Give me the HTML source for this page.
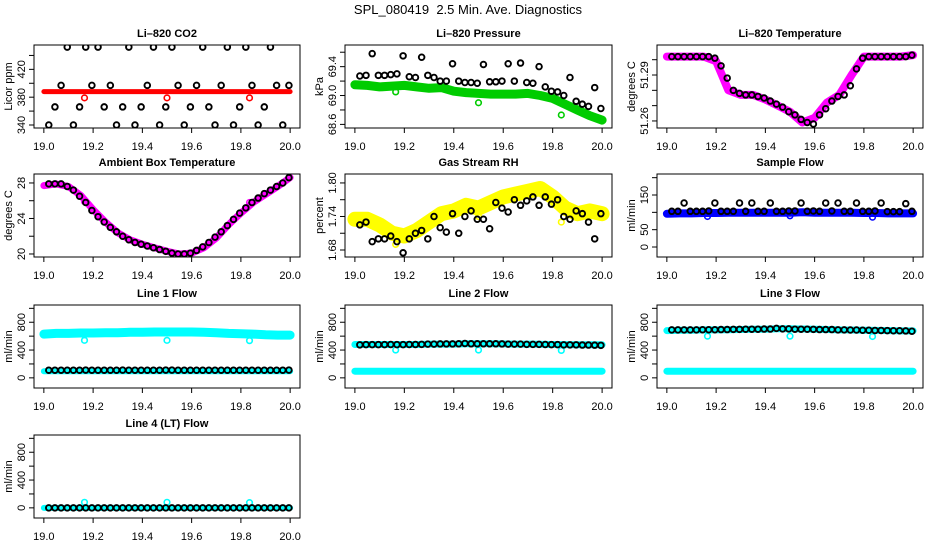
<!DOCTYPE html>
<html><head><meta charset="utf-8">
<style>
html,body{margin:0;padding:0;background:#fff;}
svg{display:block;font-family:"Liberation Sans",sans-serif;}
</style></head>
<body>
<svg id="chart" width="936" height="540" viewBox="0 0 936 540">
<text x="468" y="14" text-anchor="middle" font-size="13">SPL_080419&#160; 2.5 Min. Ave. Diagnostics</text>
</svg>
<script>
// ---- shared data ----
const bandX = [19.00,19.05,19.10,19.15,19.20,19.25,19.30,19.35,19.40,19.45,19.50,19.55,19.60,19.65,19.70,19.75,19.80,19.85,19.90,19.95,20.00];
const blackX = [19.020,19.045,19.070,19.095,19.120,19.145,19.170,19.195,19.220,19.245,19.270,19.295,19.320,19.345,19.370,19.395,19.420,19.445,19.470,19.495,19.520,19.545,19.570,19.595,19.620,19.645,19.670,19.695,19.720,19.745,19.770,19.795,19.820,19.845,19.870,19.895,19.920,19.945,19.970,19.995];
const outX = [19.165,19.50,19.835];
const xTicks = [19.0,19.2,19.4,19.6,19.8,20.0];
const xTickLabels = ["19.0","19.2","19.4","19.6","19.8","20.0"];

// CO2
const co2Band = [388,388,388,388,388,388,388,388,388,388,388,388,388,388,388,388,388,388,388,388,388];
const co2Black = [340,366,397,452,340,366,452,397,452,366,397,340,366,452,340,366,397,452,340,366,452,397,340,366,397,452,366,340,397,452,340,366,452,397,340,366,452,397,340,397];
const co2Out = [379,379,379];
const co2Ticks = [340,360,380,400,420,440];
const co2Labels = ["340","","380","","420",""];
// Pressure
const presBand = [69.15,69.14,69.12,69.13,69.14,69.12,69.10,69.11,69.06,69.04,69.03,69.02,69.02,69.02,69.03,69.00,68.96,68.88,68.80,68.72,68.66];
const presBlack = [69.27,69.28,69.58,69.28,69.28,69.29,69.30,69.55,69.26,69.25,69.53,69.28,69.25,69.20,69.20,69.44,69.20,69.18,69.18,69.17,69.43,69.19,69.19,69.20,69.44,69.20,69.45,69.18,69.17,69.40,69.12,69.06,69.05,69.00,69.25,68.92,68.88,68.85,69.11,68.82];
const presOut = [69.05,68.90,68.73];
const presTicks = [68.6,68.8,69.0,69.2,69.4,69.6];
const presLabels = ["68.6","","69.0","","69.4",""];
// Li-820 temperature
const tempBand = [51.302,51.302,51.302,51.302,51.299,51.280,51.277,51.277,51.274,51.270,51.266,51.259,51.262,51.272,51.277,51.290,51.302,51.302,51.302,51.302,51.303];
const tempBlack = [51.302,51.302,51.302,51.302,51.302,51.302,51.302,51.301,51.296,51.288,51.280,51.278,51.277,51.277,51.276,51.275,51.273,51.271,51.269,51.266,51.264,51.261,51.259,51.258,51.264,51.268,51.273,51.276,51.277,51.283,51.294,51.301,51.302,51.302,51.302,51.302,51.302,51.302,51.302,51.303];
const tempOut = [51.302,51.266,51.302];
const tempTicks = [51.26,51.27,51.28,51.29,51.30];
const tempLabels = ["51.26","","","51.29",""];
// Ambient box temperature
const ambBand = [27.7,27.9,27.6,26.6,25.0,23.6,22.4,21.6,21.1,20.7,20.3,20.0,20.1,20.7,21.8,23.3,24.6,25.8,26.7,27.6,28.6];
const ambBlack = [27.9,27.9,27.9,27.6,27.2,26.5,25.8,24.9,24.2,23.6,23.0,22.5,22.0,21.6,21.3,21.1,20.9,20.7,20.5,20.3,20.1,20.0,20.0,20.1,20.4,20.8,21.3,21.9,22.5,23.2,23.9,24.6,25.2,25.8,26.3,26.8,27.2,27.6,28.0,28.6];
const ambOut = [25.9,20.3,25.8];
const ambTicks = [20,22,24,26,28];
const ambLabels = ["20","","24","","28"];
// RH
const rhBand = [1.735,1.735,1.725,1.710,1.705,1.715,1.730,1.745,1.750,1.760,1.755,1.765,1.775,1.780,1.785,1.790,1.775,1.755,1.745,1.750,1.745];
const rhBlack = [1.725,1.730,1.695,1.700,1.700,1.705,1.695,1.675,1.700,1.710,1.715,1.700,1.740,1.720,1.712,1.745,1.710,1.740,1.750,1.735,1.735,1.718,1.765,1.755,1.748,1.770,1.760,1.768,1.775,1.760,1.775,1.762,1.770,1.740,1.735,1.750,1.745,1.730,1.700,1.745];
const rhOut = [1.690,1.740,1.730];
const rhTicks = [1.68,1.71,1.74,1.77,1.80];
const rhLabels = ["1.68","","1.74","","1.80"];
// Sample flow
const sfBand = [96,97,97,98,98,99,99,99,99,99,99,100,99,99,99,99,98,98,97,97,97];
const sfBlack = [103,103,127,103,103,103,104,127,103,103,103,127,103,127,103,103,127,103,103,104,104,127,103,104,103,127,104,127,103,103,127,103,103,104,127,102,102,102,125,103];
const sfOut = [88,90,86];
const sfTicks = [0,50,100,150,200];
const sfLabels = ["0","50","","150",""];
// Flow axes
const flowTicks = [0,200,400,600,800,1000];
const flowLabels = ["0","","400","","800",""];
// Line 1
const l1Upper = [630,640,640,645,645,650,650,655,655,660,660,660,660,655,650,640,635,630,620,615,615];
const l1Lower = [95,95,95,95,95,95,95,95,95,95,95,95,95,95,95,95,95,95,95,95,95];
const l1Black = [110,110,110,110,110,110,112,110,110,110,110,110,112,110,110,110,110,110,110,112,112,110,110,110,110,110,110,110,110,110,110,110,110,110,110,110,110,110,110,112];
const l1Out = [540,540,535];
// Line 2
const l2Upper = [480,480,480,480,480,480,485,485,485,490,490,490,488,485,485,482,480,478,475,475,475];
const l2Lower = [95,95,95,95,95,95,95,95,95,95,95,95,95,95,95,95,95,95,95,95,95];
const l2Black = [475,478,478,478,478,480,478,478,480,480,482,485,485,488,488,488,490,495,490,490,490,490,490,488,485,485,485,482,482,482,480,478,478,475,475,475,472,472,470,468];
const l2Out = [400,400,395];
// Line 3
const l3Upper = [680,685,685,690,690,692,695,698,700,705,705,703,700,695,690,688,685,682,680,675,675];
const l3Lower = [95,95,95,95,95,95,95,95,95,95,95,95,95,95,95,95,95,95,95,95,95];
const l3Black = [690,690,690,690,690,692,692,692,695,695,698,698,700,700,700,702,702,712,705,705,700,700,700,698,695,695,695,690,690,688,688,685,685,682,682,680,678,678,675,670];
const l3Out = [600,600,595];
// Line 4
const l4Band = [0,0,0,0,0,0,0,0,0,0,0,0,0,0,0,0,0,0,0,0,0];
const l4Black = [0,0,0,0,0,0,0,0,0,0,0,0,0,0,0,0,0,0,0,0,0,0,0,0,0,0,0,0,0,0,0,0,0,0,0,0,0,0,0,0];
const l4Out = [80,80,75];

// ---- drawing ----
const NS = "http://www.w3.org/2000/svg";
const svg = document.getElementById("chart");
const colLeft = [34,345,657], colRight = [300,612,923];
const rowTop = [45,174,305,435], BOXH = 83;
const XMIN = 18.96, XMAX = 20.04;

function mk(tag, attrs, parent) {
  const e = document.createElementNS(NS, tag);
  for (const k in attrs) e.setAttribute(k, attrs[k]);
  (parent || svg).appendChild(e);
  return e;
}

function panel(slug, col, row, title, ylab, ylim, yTicks, yLabels, bands, blackY, outY, outColor) {
  const L = colLeft[col], R = colRight[col], T = rowTop[row], B = T + BOXH;
  const xOf = v => L + (v - XMIN) / (XMAX - XMIN) * (R - L);
  const yOf = v => B - (v - ylim[0]) / (ylim[1] - ylim[0]) * BOXH;
  const g = mk("g", {});
  
  

  const t = mk("text", {x:(L+R)/2, y:T-8, "text-anchor":"middle", "font-size":"11", "font-weight":"bold"}, g);
  t.textContent = title;
  
  

  const yl = mk("text", {transform:`translate(${L-22},${(T+B)/2}) rotate(-90)`, "text-anchor":"middle", "font-size":"11"}, g);
  yl.textContent = ylab;
  
  

  const clip = "clip-" + slug;
  const cp = mk("clipPath", {id: clip}, g);
  mk("rect", {x:L, y:T, width:R-L, height:BOXH}, cp);
  const dg = mk("g", {"clip-path":`url(#${clip})`}, g);
  bands.forEach((b, bi) => {
    const pts = bandX.map((x, i) => xOf(x).toFixed(1) + "," + yOf(b.vals[i]).toFixed(1)).join(" ");
    const pl = mk("polyline", {points:pts, fill:"none", stroke:b.color, "stroke-width":b.w, "stroke-linejoin":"round", "stroke-linecap":"round"}, dg);
    
    
  });
  outY.forEach((v, i) => {
    const c = mk("circle", {cx:xOf(outX[i]), cy:yOf(v), r:2.8, fill:"none", stroke:outColor, "stroke-width":1.6}, dg);
    
    
  });
  blackY.forEach((v, i) => {
    const c = mk("circle", {cx:xOf(blackX[i]), cy:yOf(v), r:2.8, fill:"none", stroke:"#000", "stroke-width":1.9}, dg);
    
    
  });

  const box = mk("rect", {x:L, y:T, width:R-L, height:BOXH, fill:"none", stroke:"#000", "stroke-width":1}, g);
  
  

  xTicks.forEach((v, i) => {
    const x = xOf(v);
    mk("line", {x1:x, x2:x, y1:B, y2:B+5, stroke:"#000"}, g);
    const tl = mk("text", {x:x, y:B+22, "text-anchor":"middle", "font-size":"11"}, g);
    tl.textContent = xTickLabels[i];
    
    
  });
  yTicks.forEach((v, i) => {
    const y = yOf(v);
    mk("line", {x1:L-5, x2:L, y1:y, y2:y, stroke:"#000"}, g);
    if (yLabels[i]) {
      const tl = mk("text", {transform:`translate(${L-9},${y}) rotate(-90)`, "text-anchor":"middle", "font-size":"11"}, g);
      tl.textContent = yLabels[i];
      
      
    }
  });
}

const FL = [-146, 1048];
panel("co2", 0, 0, "Li\u2013820 CO2", "Licor ppm", [335.7,455], co2Ticks, co2Labels,
  [{vals:co2Band, color:"#ff0000", w:5}], co2Black, co2Out, "#ff0000");
panel("pressure", 1, 0, "Li\u2013820 Pressure", "kPa", [68.55,69.70], presTicks, presLabels,
  [{vals:presBand, color:"#00cc00", w:9}], presBlack, presOut, "#00cc00");
panel("li820-temp", 2, 0, "Li\u2013820 Temperature", "degrees C", [51.2554,51.3096], tempTicks, tempLabels,
  [{vals:tempBand, color:"#ff00ff", w:8}], tempBlack, tempOut, "#ff00ff");
panel("ambient-temp", 0, 1, "Ambient Box Temperature", "degrees C", [19.66,29.01], ambTicks, ambLabels,
  [{vals:ambBand, color:"#ff00ff", w:7}], ambBlack, ambOut, "#ff00ff");
panel("rh", 1, 1, "Gas Stream RH", "percent", [1.6675,1.816], rhTicks, rhLabels,
  [{vals:rhBand, color:"#ffff00", w:15}], rhBlack, rhOut, "#ffff00");
panel("sample-flow", 2, 1, "Sample Flow", "ml/min", [-28.8,210.6], sfTicks, sfLabels,
  [{vals:sfBand, color:"#0000ff", w:8}], sfBlack, sfOut, "#0000ff");
panel("line1-flow", 0, 2, "Line 1 Flow", "ml/min", FL, flowTicks, flowLabels,
  [{vals:l1Upper, color:"#00ffff", w:9},{vals:l1Lower, color:"#00ffff", w:6}], l1Black, l1Out, "#00ffff");
panel("line2-flow", 1, 2, "Line 2 Flow", "ml/min", FL, flowTicks, flowLabels,
  [{vals:l2Upper, color:"#00ffff", w:7},{vals:l2Lower, color:"#00ffff", w:7}], l2Black, l2Out, "#00ffff");
panel("line3-flow", 2, 2, "Line 3 Flow", "ml/min", FL, flowTicks, flowLabels,
  [{vals:l3Upper, color:"#00ffff", w:7},{vals:l3Lower, color:"#00ffff", w:7}], l3Black, l3Out, "#00ffff");
panel("line4-flow", 0, 3, "Line 4 (LT) Flow", "ml/min", FL, flowTicks, flowLabels,
  [{vals:l4Band, color:"#00ffff", w:6}], l4Black, l4Out, "#00ffff");
</script>
</body></html>
